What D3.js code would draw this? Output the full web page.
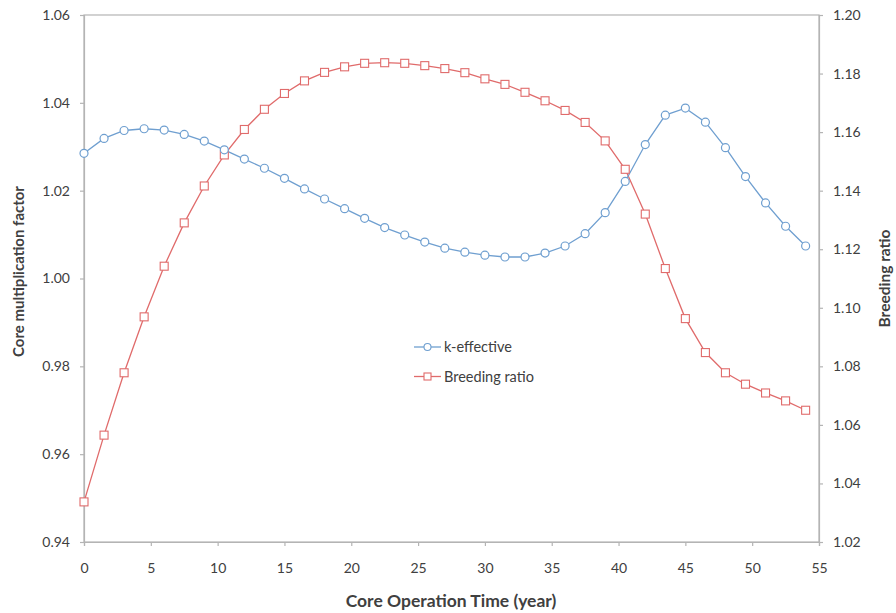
<!DOCTYPE html>
<html>
<head>
<meta charset="utf-8">
<script src="https://cdn.jsdelivr.net/npm/d3@7"></script>
<style>
  html, body { margin: 0; padding: 0; background: #fff; }
  svg { display: block; }
  text { font-family: Lato, "Open Sans", sans-serif; fill: #404040; }
</style>
</head>
<body>
<svg id="chart" width="896" height="613"></svg>
<script>
// Core operation time (years), sampled every 1.5 years
const years = d3.range(0, 54.01, 1.5);

// k-effective (left axis)
const kEffective = [
  1.0285, 1.0319, 1.0337, 1.0341, 1.0338, 1.0328, 1.0313, 1.0293, 1.0272, 1.0251,
  1.0228, 1.0204, 1.0181, 1.0159, 1.0137, 1.0116, 1.0099, 1.0083, 1.0069, 1.0060,
  1.0053, 1.0049, 1.0049, 1.0058, 1.0074, 1.0102, 1.0150, 1.0221, 1.0305, 1.0372,
  1.0388, 1.0356, 1.0298, 1.0232, 1.0172, 1.0119, 1.0074
];

// Breeding ratio (right axis)
const breedingRatio = [
  1.0337, 1.0565, 1.0778, 1.0969, 1.1142, 1.1290, 1.1416, 1.1522, 1.1609, 1.1678,
  1.1732, 1.1775, 1.1804, 1.1823, 1.1835, 1.1837, 1.1835, 1.1827, 1.1817, 1.1803,
  1.1782, 1.1763, 1.1736, 1.1707, 1.1674, 1.1633, 1.1570, 1.1473, 1.1320, 1.1134,
  1.0963, 1.0847, 1.0778, 1.0739, 1.0709, 1.0682, 1.0650
];

const xTicks = [0, 5, 10, 15, 20, 25, 30, 35, 40, 45, 50, 55];
const leftTicks = [0.94, 0.96, 0.98, 1.00, 1.02, 1.04, 1.06];
const rightTicks = [1.02, 1.04, 1.06, 1.08, 1.10, 1.12, 1.14, 1.16, 1.18, 1.20];

const blue = "#6f9fd0";
const red = "#e06b6b";
const axisColor = "#b4b4b4";

const svg = d3.select("#chart");
const m = { left: 84, right: 819, top: 15, bottom: 542 };

const x = d3.scaleLinear().domain([0, 55]).range([m.left, m.right]);
const yL = d3.scaleLinear().domain([0.94, 1.06]).range([m.bottom, m.top]);
const yR = d3.scaleLinear().domain([1.02, 1.20]).range([m.bottom, m.top]);

// Plot frame
svg.append("rect")
  .attr("x", m.left).attr("y", m.top)
  .attr("width", m.right - m.left).attr("height", m.bottom - m.top)
  .attr("fill", "none").attr("stroke", axisColor).attr("stroke-width", 1.2);

function styleAxis(g) {
  g.select(".domain").attr("stroke", axisColor).attr("stroke-width", 1.2);
  g.selectAll(".tick line").attr("stroke", axisColor).attr("stroke-width", 1.2);
  g.selectAll(".tick text").attr("fill", "#404040")
    .style("font-size", "14px").style("font-family", "Lato, 'Open Sans', sans-serif");
}

svg.append("g")
  .attr("transform", `translate(0,${m.bottom})`)
  .call(d3.axisBottom(x).tickValues(xTicks).tickFormat(d3.format("d")).tickSize(4).tickPadding(17))
  .call(styleAxis);

svg.append("g")
  .attr("transform", `translate(${m.left},0)`)
  .call(d3.axisLeft(yL).tickValues(leftTicks).tickFormat(d3.format(".2f")).tickSize(4).tickPadding(10))
  .call(styleAxis);

svg.append("g")
  .attr("transform", `translate(${m.right},0)`)
  .call(d3.axisRight(yR).tickValues(rightTicks).tickFormat(d3.format(".2f")).tickSize(4).tickPadding(10))
  .call(styleAxis);

// Series
const kData = years.map((t, i) => ({ t, v: kEffective[i] }));
const bData = years.map((t, i) => ({ t, v: breedingRatio[i] }));

const lineK = d3.line().x(d => x(d.t)).y(d => yL(d.v));
const lineB = d3.line().x(d => x(d.t)).y(d => yR(d.v));

svg.append("path").datum(bData).attr("d", lineB)
  .attr("fill", "none").attr("stroke", red).attr("stroke-width", 1.3);
svg.append("path").datum(kData).attr("d", lineK)
  .attr("fill", "none").attr("stroke", blue).attr("stroke-width", 1.3);

const sq = 8;
svg.append("g").selectAll("rect").data(bData).join("rect")
  .attr("x", d => x(d.t) - sq / 2).attr("y", d => yR(d.v) - sq / 2)
  .attr("width", sq).attr("height", sq)
  .attr("fill", "#fff").attr("stroke", red).attr("stroke-width", 1.1);

svg.append("g").selectAll("circle").data(kData).join("circle")
  .attr("cx", d => x(d.t)).attr("cy", d => yL(d.v)).attr("r", 4)
  .attr("fill", "#fff").attr("stroke", blue).attr("stroke-width", 1.2);

// Legend
const legend = svg.append("g").attr("transform", "translate(414,347)");
const items = [
  { label: "k-effective", color: blue, shape: "circle" },
  { label: "Breeding ratio", color: red, shape: "square" }
];
items.forEach((it, i) => {
  const g = legend.append("g").attr("transform", `translate(0,${i * 29.5})`);
  g.append("line").attr("x1", 0).attr("x2", 27).attr("y1", 0).attr("y2", 0)
    .attr("stroke", it.color).attr("stroke-width", 1.3);
  if (it.shape === "circle") {
    g.append("circle").attr("cx", 13.5).attr("cy", 0).attr("r", 3.5)
      .attr("fill", "#fff").attr("stroke", it.color).attr("stroke-width", 1.1);
  } else {
    g.append("rect").attr("x", 10).attr("y", -3.5).attr("width", 7).attr("height", 7)
      .attr("fill", "#fff").attr("stroke", it.color).attr("stroke-width", 1.1);
  }
  g.append("text").attr("x", 30).attr("y", 5)
    .style("font-size", "14.5px").text(it.label);
});

// Axis titles
svg.append("text")
  .attr("x", 451).attr("y", 607).attr("text-anchor", "middle")
  .style("font-size", "17.5px").style("font-weight", "bold").attr("fill", "#262626")
  .text("Core Operation Time (year)");

svg.append("text")
  .attr("transform", `translate(24,${(m.top + m.bottom) / 2 - 7}) rotate(-90)`)
  .attr("text-anchor", "middle")
  .style("font-size", "15px").style("font-weight", "bold").attr("fill", "#262626")
  .text("Core multiplication factor");

svg.append("text")
  .attr("transform", `translate(890,${(m.top + m.bottom) / 2}) rotate(-90)`)
  .attr("text-anchor", "middle")
  .style("font-size", "15.5px").style("font-weight", "bold").attr("fill", "#262626")
  .text("Breeding ratio");
</script>
</body>
</html>
